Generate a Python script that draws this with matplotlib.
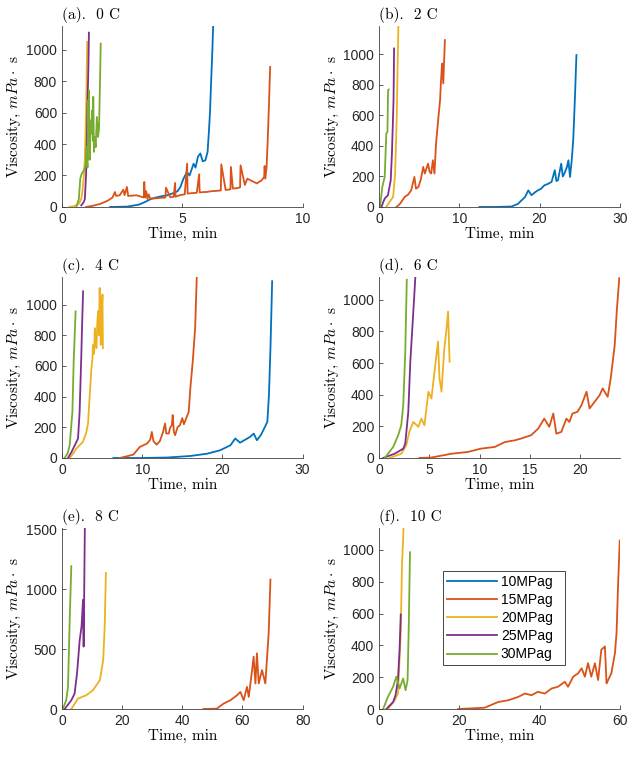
import matplotlib
matplotlib.use('Agg')
import matplotlib.pyplot as plt
import numpy as np

plt.rcParams.update({
    'font.family': 'Liberation Sans',
    'font.size': 10,
    'mathtext.fontset': 'cm',
    'axes.linewidth': 0.6,
    'axes.edgecolor': '#404040',
    'xtick.color': '#404040',
    'ytick.color': '#404040',
    'xtick.labelcolor': '#262626',
    'ytick.labelcolor': '#262626',
    'xtick.direction': 'in',
    'ytick.direction': 'in',
    'xtick.major.size': 3,
    'ytick.major.size': 3,
    'xtick.major.width': 0.6,
    'ytick.major.width': 0.6,
})

# MATLAB default line colours
colors = ['#0072BD', '#D95319', '#EDB120', '#7E2F8E', '#77AC30']
labels = ['10MPag', '15MPag', '20MPag', '25MPag', '30MPag']

# ── (a) 0 C ──  (time min, viscosity mPa s)
a10 = [(2.0, 0), (2.7, 2), (3.2, 15), (3.5, 35), (3.67, 49), (3.9, 60), (4.2, 70), (4.4, 75),
       (4.64, 89), (4.8, 100), (4.92, 127), (5.05, 180), (5.19, 222), (5.3, 200), (5.47, 275),
       (5.55, 250), (5.65, 320), (5.75, 340), (5.85, 290), (5.96, 297), (6.05, 350), (6.1, 466),
       (6.15, 600), (6.2, 805), (6.25, 1000), (6.28, 1148)]
a15 = [(1.0, 0), (1.3, 8), (1.6, 20), (1.9, 40), (2.1, 60), (2.2, 95), (2.25, 70), (2.4, 75),
       (2.55, 110), (2.6, 75), (2.7, 127), (2.75, 70), (2.9, 72), (3.1, 74), (3.3, 65), (3.4, 60),
       (3.42, 159), (3.45, 60), (3.5, 100), (3.55, 50), (3.6, 80), (3.67, 53), (3.9, 55), (4.1, 58),
       (4.3, 60), (4.32, 123), (4.5, 62), (4.64, 64), (4.7, 153), (4.72, 65), (4.9, 75), (5.1, 80),
       (5.2, 275), (5.22, 85), (5.4, 88), (5.6, 90), (5.7, 208), (5.72, 92), (5.9, 95), (6.0, 95),
       (6.2, 100), (6.4, 102), (6.6, 105), (6.62, 271), (6.8, 108), (7.0, 112), (7.02, 254),
       (7.1, 117), (7.3, 120), (7.4, 125), (7.42, 265), (7.6, 140), (7.7, 180), (7.97, 159),
       (8.1, 150), (8.3, 170), (8.4, 190), (8.42, 260), (8.45, 180), (8.5, 250), (8.55, 430),
       (8.6, 650), (8.65, 890)]
a20 = [(0.3, 0), (0.5, 5), (0.7, 20), (0.8, 50), (0.85, 100), (0.9, 180), (0.95, 300), (1.0, 600),
       (1.05, 1050)]
a25 = [(0.8, 10), (0.9, 30), (0.95, 50), (1.0, 200), (1.03, 400), (1.06, 650), (1.1, 900),
       (1.12, 1108)]
a30 = [(0.6, 0), (0.7, 50), (0.76, 180), (0.82, 212), (0.9, 230), (0.96, 254), (1.0, 300),
       (1.03, 381), (1.06, 250), (1.08, 678), (1.1, 400), (1.12, 741), (1.15, 300), (1.18, 550),
       (1.22, 466), (1.25, 614), (1.28, 420), (1.3, 700), (1.33, 350), (1.36, 445), (1.4, 380),
       (1.45, 572), (1.5, 445), (1.54, 500), (1.57, 720), (1.61, 1038)]

# ── (b) 2 C ──
b10 = [(12.5, 0), (14.5, 0), (16.5, 3), (17.3, 20), (18.2, 66), (18.6, 109), (19.0, 77),
       (19.4, 95), (19.8, 109), (20.2, 120), (20.6, 142), (21.0, 150), (21.5, 164), (21.9, 241),
       (22.1, 170), (22.3, 175), (22.5, 230), (22.7, 284), (22.9, 200), (23.1, 219), (23.4, 260),
       (23.6, 306), (23.8, 197), (24.0, 300), (24.2, 438), (24.4, 700), (24.6, 996)]
b15 = [(2.16, 0), (2.6, 20), (3.2, 66), (3.6, 80), (4.0, 109), (4.4, 197), (4.6, 120), (4.9, 131),
       (5.2, 180), (5.5, 263), (5.7, 219), (6.1, 284), (6.3, 230), (6.5, 219), (6.7, 306),
       (6.9, 219), (7.1, 416), (7.4, 591), (7.6, 700), (7.7, 810), (7.85, 941), (8.0, 810),
       (8.1, 950), (8.2, 1094)]
b20 = [(0.9, 0), (1.3, 33), (1.75, 66), (2.0, 219), (2.2, 591), (2.3, 900), (2.4, 1182)]
b25 = [(0.3, 0), (0.5, 30), (0.7, 55), (1.1, 77), (1.45, 175), (1.6, 350), (1.8, 700), (1.87, 1039)]
b30 = [(0.1, 0), (0.25, 60), (0.4, 131), (0.7, 197), (0.9, 481), (1.04, 492), (1.12, 766), (1.2, 770)]

# ── (c) 4 C ──
c10 = [(6.4, 0), (10, 0), (13.1, 3), (16.0, 13), (18.1, 28), (19.7, 50), (21.0, 83), (21.6, 127),
       (22.2, 100), (22.7, 115), (23.1, 127), (23.5, 140), (23.9, 159), (24.3, 116), (24.8, 150),
       (25.2, 192), (25.6, 236), (25.8, 410), (26.0, 738), (26.2, 1153)]
c15 = [(7.2, 0), (8.0, 10), (8.9, 22), (9.7, 72), (10.6, 94), (11.0, 120), (11.2, 170), (11.4, 110),
       (11.8, 87), (12.2, 110), (12.6, 170), (12.85, 225), (13.0, 160), (13.3, 159), (13.5, 200),
       (13.7, 214), (13.8, 280), (13.95, 170), (14.1, 148), (14.4, 200), (14.7, 214), (15.0, 260),
       (15.2, 220), (15.4, 247), (15.8, 301), (16.0, 454), (16.3, 629), (16.6, 847), (16.8, 1175)]
c20 = [(0.96, 0), (1.4, 30), (1.8, 61), (2.6, 105), (3.0, 160), (3.25, 225), (3.46, 410),
       (3.67, 585), (3.8, 650), (3.88, 738), (4.0, 680), (4.1, 847), (4.2, 750), (4.3, 716),
       (4.4, 880), (4.5, 956), (4.6, 800), (4.7, 1109), (4.84, 738), (4.95, 950), (5.05, 1066),
       (5.1, 716)]
c25 = [(0.75, 0), (1.2, 40), (1.6, 83), (2.0, 127), (2.2, 301), (2.4, 651), (2.5, 850), (2.63, 1087)]
c30 = [(0.33, 0), (0.7, 30), (0.96, 83), (1.3, 301), (1.46, 629), (1.7, 956)]

# ── (d) 6 C ──
d15 = [(4.0, 0), (5.2, 3), (7.2, 27), (8.8, 38), (10.1, 59), (11.5, 70), (12.5, 101), (13.5, 112),
       (14.1, 123), (15.1, 144), (15.8, 186), (16.4, 249), (16.9, 197), (17.3, 281), (17.6, 154),
       (18.1, 165), (18.6, 249), (18.9, 228), (19.2, 281), (19.7, 292), (20.1, 334), (20.6, 419),
       (20.9, 313), (21.4, 355), (21.9, 397), (22.2, 440), (22.7, 387), (23.0, 503), (23.4, 715),
       (23.6, 926), (23.85, 1137)]
d20 = [(1.06, 0), (2.2, 27), (2.7, 80), (3.0, 165), (3.4, 228), (3.9, 197), (4.2, 249), (4.5, 207),
       (4.9, 419), (5.2, 376), (5.5, 545), (5.85, 736), (6.0, 503), (6.2, 419), (6.45, 672),
       (6.7, 820), (6.85, 926), (7.0, 609)]
d25 = [(0.4, 0), (1.55, 27), (2.4, 59), (2.6, 91), (2.9, 292), (3.1, 609), (3.4, 926), (3.6, 1144)]
d30 = [(0.56, 0), (1.4, 70), (1.9, 144), (2.2, 207), (2.4, 334), (2.6, 672), (2.75, 1127)]

# ── (e) 8 C ──
e15 = [(47, 0), (51.5, 3), (53.7, 45), (56, 73), (58.2, 115), (59.3, 143), (60.4, 73), (61.5, 185),
       (62.1, 101), (63.2, 325), (63.7, 437), (64.3, 213), (64.8, 465), (65.4, 213), (66.5, 325),
       (67.6, 213), (68.2, 437), (68.7, 633), (69.3, 1080)]
e20 = [(3.1, 0), (5.3, 87), (8.1, 115), (10.3, 157), (12.6, 241), (13.7, 409), (14.2, 688), (14.6, 1136)]
e25 = [(0.9, 0), (3.1, 73), (4.2, 129), (5.0, 297), (5.9, 577), (6.5, 688), (7.0, 912), (7.2, 521),
       (7.6, 1514)]
e30 = [(0.3, 0), (1.4, 73), (2.0, 185), (2.6, 772), (3.1, 1192)]

# ── (f) 10 C ──
f15 = [(19.7, 0), (26.3, 8), (29.7, 44), (32.2, 55), (34.7, 76), (36.3, 97), (38, 87), (39.6, 108),
       (41.3, 97), (43, 129), (44.6, 140), (46.3, 171), (47.1, 140), (48.4, 203), (49.6, 224),
       (50.5, 256), (51.3, 203), (52.1, 288), (52.9, 203), (53.8, 288), (54.6, 182), (55.4, 372),
       (56.3, 393), (56.7, 161), (57.1, 182), (57.9, 224), (58.8, 351), (59.2, 478), (59.6, 795),
       (60, 1059)]
f20 = [(2.2, 0), (3.9, 55), (4.7, 97), (5.4, 478), (5.7, 900), (6.1, 1137)]
f25 = [(1.8, 0), (3.5, 44), (4.1, 87), (4.7, 182), (5.1, 372), (5.4, 594)]
f30 = [(1.0, 0), (2.2, 76), (3.5, 140), (4.3, 203), (5.1, 129), (6.0, 192), (6.6, 118), (7.1, 182),
       (7.4, 520), (7.7, 985)]

titles = ['(a).  0 C', '(b).  2 C', '(c).  4 C', '(d).  6 C', '(e).  8 C', '(f).  10 C']
panels = [
    [a10, a15, a20, a25, a30],
    [b10, b15, b20, b25, b30],
    [c10, c15, c20, c25, c30],
    [[], d15, d20, d25, d30],
    [[], e15, e20, e25, e30],
    [[], f15, f20, f25, f30],
]
xlims = [10, 30, 30, 23.9, 80, 60]
ylims = [1150, 1186, 1180, 1144, 1510, 1137]
xticks = [[0, 5, 10], [0, 10, 20, 30], [0, 10, 20, 30], [0, 5, 10, 15, 20],
          [0, 20, 40, 60, 80], [0, 20, 40, 60]]
yticks = [np.arange(0, 1001, 200)] * 4 + [[0, 500, 1000, 1500], np.arange(0, 1001, 200)]

fig = plt.figure(figsize=(6.35, 7.57), dpi=100)
lefts = [0.0976, 0.597]
bottoms = [0.7266, 0.395, 0.0634]
serif = 'cmr10'

for i in range(6):
    ax = fig.add_axes([lefts[i % 2], bottoms[i // 2], 0.379, 0.239])
    for j, series in enumerate(panels[i]):
        if len(series):
            t, v = np.array(series, dtype=float).T
        else:
            t, v = [], []
        ax.plot(t, v, color=colors[j], lw=1.3, label=labels[j])
    ax.set_xlim(0, xlims[i])
    ax.set_ylim(0, ylims[i])
    ax.set_xticks(xticks[i])
    ax.set_yticks(yticks[i])
    ax.tick_params(labelfontfamily='Liberation Sans', labelsize=10)
    ax.spines['top'].set_visible(False)
    ax.spines['right'].set_visible(False)
    ax.set_title(titles[i], loc='left', fontfamily=serif, fontsize=11, pad=5)
    ax.set_xlabel('Time, min', fontfamily=serif, fontsize=11, labelpad=1)
    ax.set_ylabel(r'Viscosity, $mPa\cdot$ s', fontfamily=serif, fontsize=11, labelpad=2)
    if i == 5:
        leg = ax.legend(loc='upper left', bbox_to_anchor=(0.266, 0.761, 0.506, 0.0),
                        mode='expand', borderaxespad=0, fancybox=False, framealpha=1,
                        edgecolor='#262626', handlelength=3.6, handletextpad=0.3,
                        labelspacing=0.3, borderpad=0.25, fontsize=10)
        leg.get_frame().set_linewidth(0.6)

fig.savefig('out.png', dpi=100)
